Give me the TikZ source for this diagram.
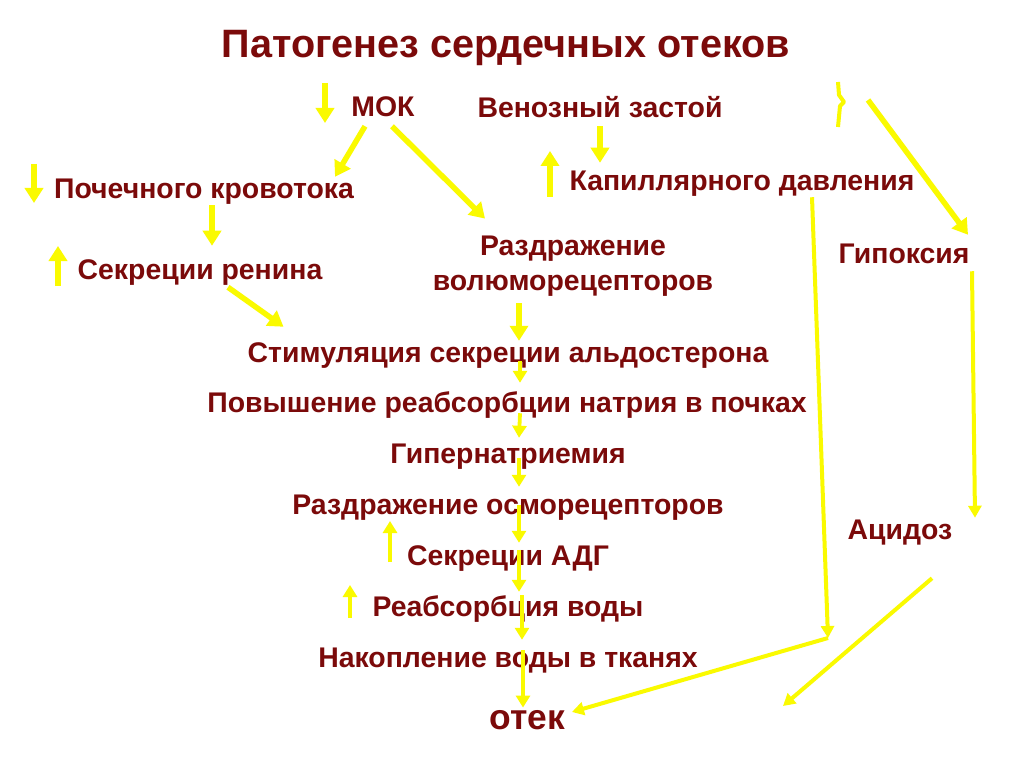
\documentclass[tikz,border=0pt]{standalone}
\usepackage{fontspec}
\setmainfont{Liberation Sans}
\usetikzlibrary{arrows.meta}
\definecolor{mMaroon}{HTML}{7B0A0A}
\definecolor{mYellow}{HTML}{FAFA00}

\begin{document}
\begin{tikzpicture}[
  x=1pt, y=-1pt,
  every node/.style={font=\fontsize{28.4}{35}\selectfont\bfseries, text=mMaroon,
                     inner sep=0pt},
  term/.style={text height=20.4pt, text depth=5.7pt},
  headline/.style={font=\fontsize{39.6}{46}\selectfont\bfseries},
  final/.style={font=\fontsize{35.4}{40}\selectfont\bfseries,
                text height=25.5pt, text depth=7pt},
  arr/.style={-{Triangle[length=15pt, width=18pt]}, line width=5.5pt, mYellow},
  thinarr/.style={-{Triangle[length=12pt, width=14pt]}, line width=3.8pt, mYellow},
  longarr/.style={-{Triangle[length=12pt, width=13pt]}, line width=4pt, mYellow},
]
  \useasboundingbox[fill=white] (0,0) rectangle (1024,767);

  \node[headline] (title) at (506, 48) {Патогенез сердечных отеков};

  \node[term] (mok) at (383, 109) {МОК};
  \node[term] (venous) at (600, 110) {Венозный застой};
  \node[term] (kidney) at (204, 191) {Почечного кровотока};
  \node[term] (capill) at (742, 183) {Капиллярного давления};
  \node[align=center] (volume) at (573, 266) {Раздражение\\волюморецепторов};
  \node[term] (hypox) at (904, 256) {Гипоксия};
  \node[term] (renin) at (200, 272) {Секреции ренина};
  \node[term] (aldo) at (508, 355) {Стимуляция секреции альдостерона};
  \node[term] (sodium) at (507, 405) {Повышение реабсорбции натрия в почках};
  \node[term] (hypernat) at (508, 456) {Гипернатриемия};
  \node[term] (osmo) at (508, 507) {Раздражение осморецепторов};
  \node[term] (acid) at (900, 532) {Ацидоз};
  \node[term] (adh) at (508, 558) {Секреции АДГ};
  \node[term] (water) at (508, 609) {Реабсорбция воды};
  \node[term] (accum) at (508, 660) {Накопление воды в тканях};
  \node[final] (edema) at (527, 720) {отек};

  \coordinate (bend) at (828, 638);
  \coordinate (hypstart) at (868, 100);
  \coordinate (acidend) at (783, 706);

  % up / down marks
  \draw[arr] (325, 83) -- (325, 123);
  \draw[arr] (34, 164) -- (34, 203);
  \draw[arr] (58, 286) -- (58, 246);
  \draw[arr] (550, 197) -- (550, 151);
  \draw[thinarr] (390, 562) -- (390, 521);
  \draw[thinarr] (350, 618) -- (350, 585);
  \draw[mYellow, line width=4pt, line join=round]
    (838, 82) -- (839, 95) -- (844, 102) -- (840, 106) -- (838, 127);

  % left branch
  \draw[arr] ([xshift=-18, yshift=-4]mok.south) -- ([xshift=131, yshift=1]kidney.north);
  \draw[arr] ([xshift=9, yshift=-4]mok.south) -- ([xshift=-88, yshift=17]volume.north);
  \draw[arr] ([xshift=8, yshift=-1]kidney.south) -- ([xshift=12, yshift=13]renin.north);
  \draw[arr] ([xshift=28, yshift=-2]renin.south) -- ([xshift=36, yshift=15]aldo.north west);
  \draw[arr] ([xshift=-54, yshift=-7]volume.south) -- ([xshift=11, yshift=1]aldo.north);

  % main chain
  \draw[thinarr] ([xshift=12, yshift=7]aldo.south) -- ([xshift=13, yshift=9]sodium.north);
  \draw[thinarr] ([xshift=13, yshift=5]sodium.south) -- ([xshift=11, yshift=5]hypernat.north);
  \draw[thinarr] ([xshift=11, yshift=11]hypernat.south) -- ([xshift=11, yshift=7]osmo.north);
  \draw[thinarr] ([xshift=11, yshift=15]osmo.south) -- ([xshift=11, yshift=2]adh.north);
  \draw[thinarr] ([xshift=11, yshift=21]adh.south) -- ([xshift=11, yshift=4]water.north);
  \draw[thinarr] ([xshift=14, yshift=27]water.south) -- ([xshift=14, yshift=7]accum.north);
  \draw[thinarr] ([xshift=15, yshift=23]accum.south) -- ([xshift=-4, yshift=-4]edema.north);

  % right branch
  \draw[arr] ([yshift=-3]venous.south) -- ([xshift=-142, yshift=7]capill.north);
  \draw[longarr] ([xshift=70, yshift=-1]capill.south) -- (bend);
  \draw[longarr] (bend) -- ([xshift=7, yshift=8]edema.east);
  \draw[arr] (hypstart) -- ([xshift=64, yshift=8]hypox.north);
  \draw[longarr] ([xshift=68, yshift=-2]hypox.south) -- ([xshift=75, yshift=1]acid.north);
  \draw[longarr] ([xshift=32, yshift=-33]acid.south) -- (acidend);
\end{tikzpicture}
\end{document}
